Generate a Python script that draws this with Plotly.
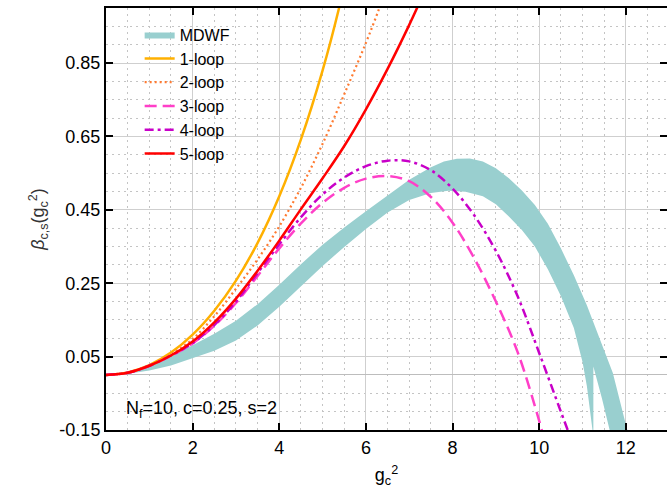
import plotly.graph_objects as go

# ---- data ----
g_1loop = [0, 0.5, 1.0, 1.5, 2.0, 2.5, 3.0, 3.5, 4.0, 4.5, 5.0, 5.38, 5.55]
b_1loop = [0, 0.007, 0.027, 0.061, 0.11, 0.175, 0.257, 0.36, 0.487, 0.642, 0.83, 1.0, 1.09]

g_2loop = [0, 0.5, 1.0, 1.5, 2.0, 2.5, 3.0, 3.5, 4.0, 4.5, 5.0, 5.5, 6.0, 6.31, 6.5]
b_2loop = [0, 0.006, 0.026, 0.056, 0.098, 0.16, 0.235, 0.315, 0.405, 0.51, 0.63, 0.765, 0.905, 1.0, 1.065]

g_3loop = [0, 0.5, 1.0, 1.5, 2.0, 2.5, 3.0, 3.5, 4.0, 4.5, 5.0, 5.5, 6.0, 6.5, 7.0, 7.5, 8.0, 8.5, 9.0, 9.5, 10.0, 10.15]
b_3loop = [0, 0.006, 0.025, 0.052, 0.086, 0.134, 0.196, 0.27, 0.345, 0.413, 0.469, 0.51, 0.535, 0.542, 0.528, 0.485, 0.415, 0.318, 0.2, 0.063, -0.125, -0.19]

g_4loop = [0, 0.5, 1.0, 1.5, 2.0, 2.5, 3.0, 3.5, 4.0, 4.5, 5.0, 5.5, 6.0, 6.5, 7.0, 7.5, 8.0, 8.5, 9.0, 9.5, 10.0, 10.5, 10.8]
b_4loop = [0, 0.006, 0.025, 0.053, 0.087, 0.136, 0.2, 0.278, 0.356, 0.43, 0.492, 0.538, 0.569, 0.584, 0.582, 0.558, 0.508, 0.435, 0.338, 0.215, 0.06, -0.1, -0.195]

g_5loop = [0, 0.5, 1.0, 1.5, 2.0, 2.5, 3.0, 3.5, 4.0, 4.5, 5.0, 5.5, 6.0, 6.5, 7.0, 7.5]
b_5loop = [0, 0.006, 0.025, 0.053, 0.091, 0.143, 0.208, 0.284, 0.366, 0.452, 0.536, 0.624, 0.724, 0.834, 0.954, 1.084]

g_band_up = [0, 0.5, 1.0, 1.5, 2.0, 2.5, 3.0, 3.5, 4.0, 4.5, 5.0, 5.5, 6.0, 6.5, 7.0, 7.5, 7.8, 8.1, 8.4, 8.7,
             9.0, 9.3, 9.6, 9.9, 10.2, 10.5, 10.8, 11.1, 11.4, 11.7, 12.0, 12.2]
b_band_up = [0, 0.007, 0.025, 0.05, 0.081, 0.112, 0.148, 0.193, 0.246, 0.302, 0.355, 0.402, 0.446, 0.49, 0.532, 0.566, 0.582, 0.589, 0.59, 0.582,
             0.563, 0.536, 0.503, 0.463, 0.412, 0.345, 0.272, 0.19, 0.1, 0.005, -0.135, -0.22]

g_band_lo = [0, 0.5, 1.0, 1.5, 2.0, 2.5, 3.0, 3.5, 4.0, 4.5, 5.0, 5.5, 6.0, 6.5, 7.0, 7.5, 7.9, 8.3, 8.7,
             9.0, 9.3, 9.6, 9.9, 10.2, 10.5, 10.8, 11.0, 11.1, 11.18, 11.23, 11.25, 11.25, 11.45, 11.63, 11.75]
b_band_lo = [0, 0.003, 0.012, 0.026, 0.045, 0.066, 0.094, 0.135, 0.186, 0.242, 0.297, 0.349, 0.398, 0.443, 0.477, 0.496, 0.502, 0.499, 0.487,
             0.465, 0.432, 0.395, 0.35, 0.288, 0.215, 0.128, 0.035, -0.03, -0.1, -0.15, -0.25, 0.023, -0.065, -0.15, -0.21]

x_ticks = [0, 2, 4, 6, 8, 10, 12]
y_ticks = [-0.15, 0.05, 0.25, 0.45, 0.65, 0.85]

FONT = "Liberation Sans, Arial, Helvetica, sans-serif"

fig = go.Figure()

# MDWF band (polygon: upper edge then lower edge reversed)
band_x = g_band_up + g_band_lo[::-1]
band_y = b_band_up + b_band_lo[::-1]
fig.add_trace(go.Scatter(x=band_x, y=band_y, mode="lines", fill="toself",
                         fillcolor="#99cfcf", line=dict(width=0, color="#99cfcf"),
                         name="MDWF", hoverinfo="skip"))

lines = [
    ("1-loop", g_1loop, b_1loop, "#ffb000", "solid", 2.5),
    ("2-loop", g_2loop, b_2loop, "#ff7a30", "2px,3px", 2.2),
    ("3-loop", g_3loop, b_3loop, "#ff3fc8", "12px,6px", 2.5),
    ("4-loop", g_4loop, b_4loop, "#c800c8", "9px,4px,3px,4px", 2.5),
    ("5-loop", g_5loop, b_5loop, "#ff0000", "solid", 2.5),
]
for name, xs, ys, col, dash, w in lines:
    fig.add_trace(go.Scatter(x=xs, y=ys, mode="lines", name=name,
                             line=dict(color=col, dash=dash, width=w, shape="spline", smoothing=1.0)))

fig.add_annotation(x=0.42, y=-0.095, xref="x", yref="y", xanchor="left", yanchor="middle",
                   text="N<sub>f</sub>=10, c=0.25, s=2", showarrow=False,
                   font=dict(family=FONT, size=18, color="black"))

axis_common = dict(
    showline=True, linecolor="black", linewidth=2, mirror="ticks",
    ticks="inside", ticklen=7, tickwidth=1.5, tickcolor="black",
    showgrid=True, gridcolor="#cfcfcf", gridwidth=1,
    tickfont=dict(family=FONT, size=18, color="black"),
    automargin=False,
)

fig.update_xaxes(range=[0, 12.95], tickvals=x_ticks, ticktext=[str(v) for v in x_ticks],
                 zeroline=False,
                 minor=dict(dtick=0.5, tick0=0, showgrid=True, gridcolor="#c4c4c4",
                            griddash="2px,4px", gridwidth=1, ticks=""),
                 title=dict(text="g<sub>c</sub><sup>2</sup>", font=dict(family=FONT, size=18, color="black"),
                            standoff=12),
                 **axis_common)
fig.update_yaxes(range=[-0.15, 1.0], tickvals=y_ticks, ticktext=["%.2f" % v for v in y_ticks],
                 zeroline=True, zerolinecolor="#bdbdbd", zerolinewidth=1.2,
                 minor=dict(dtick=0.05, tick0=-0.15, showgrid=True, gridcolor="#c4c4c4",
                            griddash="2px,4px", gridwidth=1, ticks=""),
                 title=dict(text="<i>β</i><sub>c,s</sub>(g<sub>c</sub><sup>2</sup>)",
                            font=dict(family=FONT, size=18, color="#333"), standoff=10),
                 **axis_common)

fig.update_layout(
    width=667, height=499,
    margin=dict(l=106, r=0, t=8, b=69),
    paper_bgcolor="white", plot_bgcolor="white",
    showlegend=True,
    legend=dict(x=0.06, y=0.977, xanchor="left", yanchor="top",
                bgcolor="rgba(255,255,255,0)", borderwidth=0,
                font=dict(family=FONT, size=16, color="black"),
                tracegroupgap=0, itemwidth=30),
    font=dict(family=FONT),
)

fig.write_html("out.html", config={"displayModeBar": False},
               post_script="document.body.style.margin='0';document.body.style.overflow='hidden';")
